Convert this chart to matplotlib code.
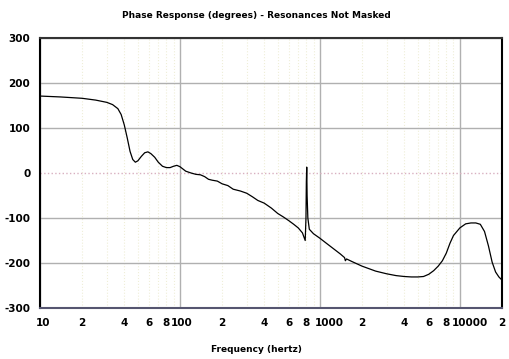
import matplotlib
matplotlib.use("Agg")
import matplotlib.pyplot as plt
import matplotlib.transforms as mtransforms

# phase response (Hz, degrees)
freq_hz = [10, 14, 20, 25, 30, 33, 36, 38, 40, 42, 44, 46, 48, 50, 53, 56, 59, 62, 66,
           70, 75, 80, 85, 90, 95, 100, 110, 120, 130, 140, 150, 160, 170, 185, 200,
           220, 240, 270, 300, 330, 360, 400, 450, 500, 550, 600, 650, 700, 750, 785,
           795, 800, 805, 810, 820, 840, 900, 1000, 1100, 1200, 1400, 1500, 1520, 1550,
           1700, 2000, 2500, 3000, 3500, 4000, 4500, 5000, 5500, 6000, 6500, 7000, 7500,
           8000, 8500, 9000, 10000, 11000, 12000, 13000, 14000, 15000, 16000, 17000,
           18000, 19000, 20000]
phase_deg = [171, 169, 166, 162, 157, 152, 143, 130, 107, 78, 48, 30, 24, 27, 37, 45, 47, 43, 35,
             24, 15, 12, 12, 15, 17, 14, 4, 0, -3, -4, -8, -14, -16, -18, -24,
             -28, -36, -40, -45, -53, -61, -67, -78, -90, -98, -106, -114, -122, -133, -150,
             -100, -20, 13, -50, -100, -125, -135, -145, -155, -164, -180, -188, -195, -191,
             -197, -207, -218, -224, -228, -230, -231, -231, -230, -225, -217, -207, -195,
             -178, -156, -139, -122, -113, -111, -111, -114, -130, -162, -198,
             -220, -231, -238]

decades = [10, 100, 1000, 10000]
decade_shift_px = [3, 2, 9, 10]  # reference nudges the decade labels to the right
minor_ticks = [20, 30, 40, 50, 60, 70, 80, 90, 200, 300, 400, 500, 600, 700, 800, 900,
               2000, 3000, 4000, 5000, 6000, 7000, 8000, 9000, 20000]
minor_labels = ["2", "", "4", "", "6", "", "8", "", "2", "", "4", "", "6", "", "8", "",
                "2", "", "4", "", "6", "", "8", "", "2"]
y_ticks = [-300, -200, -100, 0, 100, 200, 300]

plt.rcParams["font.family"] = "DejaVu Sans"
fig = plt.figure(figsize=(5.09, 3.59), dpi=100)
ax = fig.add_axes([40 / 509, 1 - 308 / 359, 462 / 509, 270 / 359])

ax.plot(freq_hz, phase_deg, color="black", linewidth=0.9, zorder=3)

ax.set_xscale("log")
ax.set_xlim(10, 20000)
ax.set_ylim(-300, 300)

ax.set_xticks(decades)
ax.set_xticklabels([str(d) for d in decades])
ax.set_xticks(minor_ticks, minor=True)
ax.set_xticklabels(minor_labels, minor=True)
ax.set_yticks(y_ticks)
ax.set_yticklabels([str(v) for v in y_ticks])

ax.grid(which="major", color="#b0b0b0", linewidth=1.0)
ax.grid(which="minor", axis="x", color="#efeed8", linewidth=0.8, linestyle=":")
zero_line = ax.get_ygridlines()[3]
zero_line.set_color("#d8b0c0")
zero_line.set_linestyle(":")

ax.tick_params(which="both", length=0, labelsize=7.5)
ax.tick_params(axis="x", which="both", pad=7)
ax.tick_params(axis="y", pad=7)
for lbl in ax.get_xticklabels(which="both") + ax.get_yticklabels():
    lbl.set_fontweight("bold")
for lbl, dx in zip(ax.get_xticklabels(), decade_shift_px):
    lbl.set_transform(lbl.get_transform()
                      + mtransforms.ScaledTranslation(dx / 100, 0, fig.dpi_scale_trans))

ax.spines["left"].set_color("black")
ax.spines["right"].set_color("black")
ax.spines["top"].set_color("#333333")
ax.spines["bottom"].set_color("#555570")
for s in ax.spines.values():
    s.set_linewidth(1.5)

fig.text(256 / 509, 1 - 15 / 359, "Phase Response (degrees) - Resonances Not Masked",
         ha="center", va="center", fontsize=6.5, fontweight="bold")
fig.text(256 / 509, 1 - 350 / 359, "Frequency (hertz)",
         ha="center", va="center", fontsize=6.5, fontweight="bold")

fig.savefig("out.png", dpi=100)
